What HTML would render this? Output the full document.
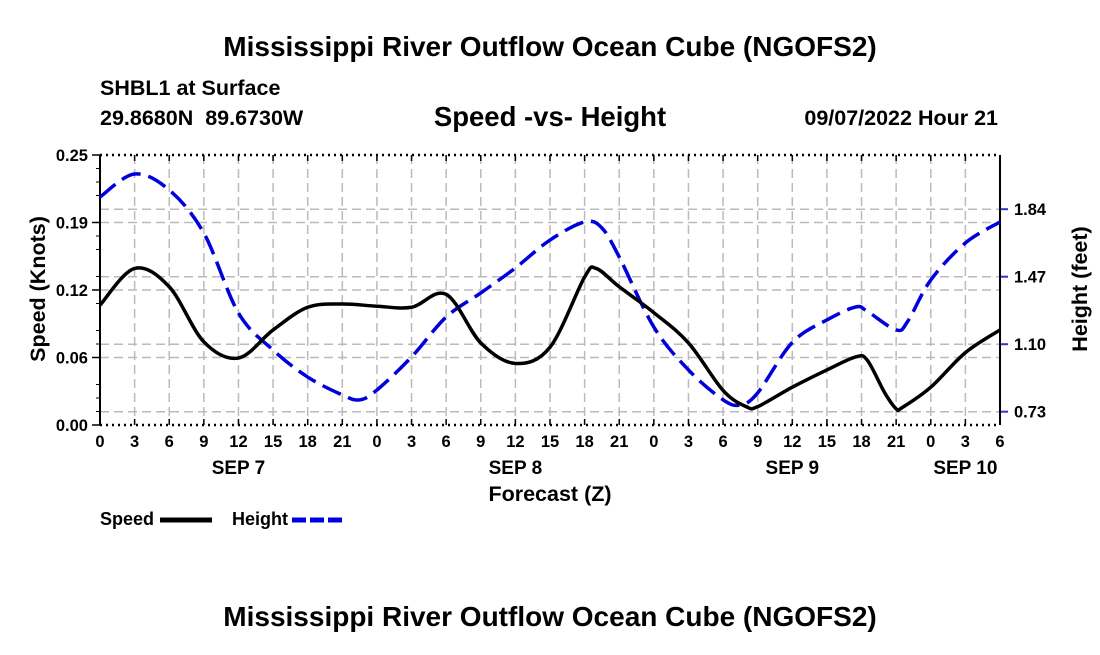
<!DOCTYPE html>
<html><head><meta charset="utf-8"><style>
body{margin:0;background:#fff;}
svg text{font-family:"Liberation Sans",Arial,sans-serif;font-weight:bold;fill:#000;white-space:pre;}
</style></head><body>
<svg id="chart" width="1100" height="650" viewBox="0 0 1100 650" xmlns="http://www.w3.org/2000/svg">
<text x="550" y="56" font-size="28" text-anchor="middle">Mississippi River Outflow Ocean Cube (NGOFS2)</text>
<text x="100" y="95" font-size="21.5">SHBL1 at Surface</text>
<text x="100" y="125" font-size="21.5" xml:space="preserve">29.8680N  89.6730W</text>
<text x="550" y="126" font-size="27.5" text-anchor="middle">Speed -vs- Height</text>
<text x="998" y="125" font-size="21.5" text-anchor="end">09/07/2022 Hour 21</text>
<g id="grid"></g>
<g id="axes"></g>
<g id="series"></g>
<text x="550" y="501" font-size="21.5" text-anchor="middle">Forecast (Z)</text>
<text transform="translate(45,289) rotate(-90)" font-size="21.5" text-anchor="middle">Speed (Knots)</text>
<text transform="translate(1087,289) rotate(-90)" font-size="21.5" text-anchor="middle">Height (feet)</text>
<g>
<text x="100" y="525" font-size="18">Speed</text>
<line x1="160" y1="520" x2="212" y2="520" stroke="#000" stroke-width="5"/>
<text x="232" y="525" font-size="18">Height</text>
<line x1="292" y1="520" x2="342" y2="520" stroke="#0000dd" stroke-width="5" stroke-dasharray="14,4"/>
</g>
<text x="550" y="626" font-size="28" text-anchor="middle">Mississippi River Outflow Ocean Cube (NGOFS2)</text>
</svg>
<script>
const xTickLabels=["0","3","6","9","12","15","18","21","0","3","6","9","12","15","18","21","0","3","6","9","12","15","18","21","0","3","6"];
const dayLabels=["SEP 7","SEP 8","SEP 9","SEP 10"];
const dayLabelHours=[12,36,60,75];
const speedTicks=[0,0.0625,0.125,0.1875,0.25];
const speedTickLabels=["0.00","0.06","0.12","0.19","0.25"];
const heightTicks=[0.73,1.10,1.47,1.84];
const heightTickLabels=["0.73","1.10","1.47","1.84"];
const speedHours=[0,3,6,9,12,15,18,21,24,27,30,33,36,39,42,43,45,48,51,54,56,57,60,63,65.5,66.5,68,69,69.5,72,75,78];
const speedValues=[0.111,0.145,0.128,0.077,0.062,0.088,0.109,0.112,0.110,0.109,0.121,0.076,0.057,0.072,0.137,0.145,0.128,0.104,0.076,0.032,0.017,0.017,0.035,0.051,0.063,0.060,0.030,0.015,0.016,0.035,0.067,0.088];
const heightHours=[0,3,6,9,12,15,18,21,22.5,24,27,30,33,36,39,42,43.5,45,48,51,54,55.5,57,60,63,65.5,66.5,69,70,72,75,78];
const heightValues=[1.907,2.033,1.945,1.709,1.271,1.068,0.920,0.822,0.795,0.849,1.030,1.249,1.381,1.518,1.671,1.770,1.737,1.578,1.194,0.959,0.795,0.767,0.833,1.110,1.233,1.304,1.280,1.178,1.225,1.452,1.655,1.770];

const L=100,R=1000,T=155,B=425,HMAX=78;
const xS=h=>L+h*(R-L)/HMAX;
const yS=v=>B-v*(B-T)/0.25;
const yH=v=>411.7-(v-0.73)*67.5/0.37;
const NS="http://www.w3.org/2000/svg";
function mk(tag,attrs,parent){const e=document.createElementNS(NS,tag);for(const k in attrs)e.setAttribute(k,attrs[k]);parent.appendChild(e);return e;}
const grid=document.getElementById('grid'),axes=document.getElementById('axes'),series=document.getElementById('series');
const gstyle={stroke:"#bbb","stroke-width":1.5,"stroke-dasharray":"9,5"};
xTickLabels.forEach((lab,i)=>{const x=xS(i*3);
 if(i>0&&i<xTickLabels.length-1){const g=mk('line',Object.assign({x1:x,x2:x,y1:T,y2:B},gstyle),grid);
 
 }
 const t=mk('line',{x1:x,x2:x,y1:B,y2:B-6,stroke:"#000","stroke-width":1.5},axes);
 
 
 const t2=mk('line',{x1:x,x2:x,y1:T,y2:T+6,stroke:"#000","stroke-width":1.5},axes);
 
 
 const tx=mk('text',{x:x,y:447,"font-size":16.5,"text-anchor":"middle"},axes);tx.textContent=lab;
 
 
});
dayLabels.forEach((d,i)=>{const tx=mk('text',{x:xS(dayLabelHours[i]),y:474,"font-size":19,"text-anchor":"middle"},axes);tx.textContent=d;
 
 });
speedTicks.forEach((v,i)=>{const y=yS(v);
 if(v>0&&v<0.25){const g=mk('line',Object.assign({x1:L,x2:R,y1:y,y2:y},gstyle),grid);
 
 }
 const t=mk('line',{x1:L-8,x2:L,y1:y,y2:y,stroke:"#000","stroke-width":1.5},axes);
 
 
 const tx=mk('text',{x:L-12,y:y+6,"font-size":16.5,"text-anchor":"end"},axes);tx.textContent=speedTickLabels[i];
 
 
});
for(let k=1;k<20;k++){if(k%4===0)continue;const y=yS(k*0.0125);
 const t=mk('line',{x1:L-4,x2:L,y1:y,y2:y,stroke:"#000","stroke-width":1},axes);
 
 }
heightTicks.forEach((v,i)=>{const y=yH(v);
 const g=mk('line',Object.assign({x1:L,x2:R,y1:y,y2:y},gstyle),grid);
 
 
 const t=mk('line',{x1:R,x2:R+8,y1:y,y2:y,stroke:"#3333cc","stroke-width":2},axes);
 
 
 const tx=mk('text',{x:R+14,y:y+6,"font-size":16.5},axes);tx.textContent=heightTickLabels[i];
 
 
});
[[L,T,R,T,"2,4"],[L,B,R,B,"2,4"]].forEach(a=>{const l=mk('line',{x1:a[0],y1:a[1],x2:a[2],y2:a[3],stroke:"#000","stroke-width":2.5,"stroke-dasharray":a[4]},axes);
 
 });
const la=mk('line',{x1:L,y1:T,x2:L,y2:B,stroke:"#000","stroke-width":2},axes);


const ra=mk('line',{x1:R,y1:T,x2:R,y2:B,stroke:"#000","stroke-width":2},axes);


function smooth(pts){let d=`M${pts[0][0]},${pts[0][1]}`;
 for(let i=0;i<pts.length-1;i++){const p0=pts[Math.max(0,i-1)],p1=pts[i],p2=pts[i+1],p3=pts[Math.min(pts.length-1,i+2)];
  const c1=[p1[0]+(p2[0]-p0[0])/6,p1[1]+(p2[1]-p0[1])/6],c2=[p2[0]-(p3[0]-p1[0])/6,p2[1]-(p3[1]-p1[1])/6];
  d+=` C${c1[0]},${c1[1]} ${c2[0]},${c2[1]} ${p2[0]},${p2[1]}`;}
 return d;}
const hp=mk('path',{d:smooth(heightHours.map((h,i)=>[xS(h),yH(heightValues[i])])),fill:"none",stroke:"#0000dd","stroke-width":3.5,"stroke-dasharray":"20,8"},series);


const sp=mk('path',{d:smooth(speedHours.map((h,i)=>[xS(h),yS(speedValues[i])])),fill:"none",stroke:"#000","stroke-width":3.5},series);


</script>
</body></html>
